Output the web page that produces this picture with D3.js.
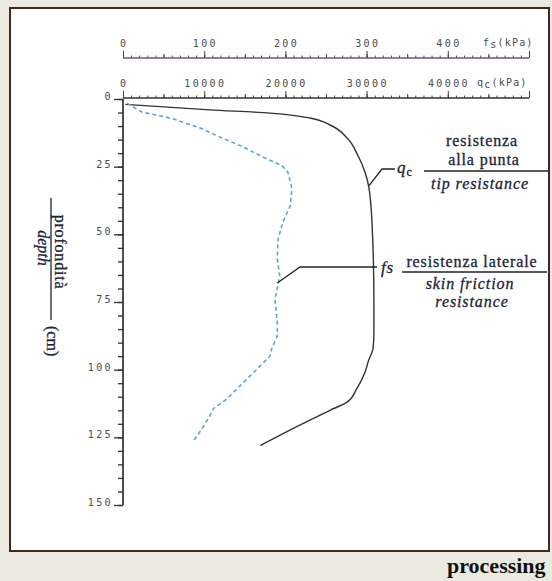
<!DOCTYPE html>
<html>
<head>
<meta charset="utf-8">
<script src="https://cdn.jsdelivr.net/npm/d3@7"></script>
<style>
  body { margin: 0; background: #ebeae1; }
  svg { display: block; }
  .tk text { font-family: "DejaVu Sans Mono", monospace; font-size: 10px; fill: #4a4a4a; letter-spacing: 2.4px; }
  .lbl { font-family: "Liberation Serif", serif; fill: #1c2438; stroke: #1c2438; stroke-width: 0.3px; }
</style>
</head>
<body>
<svg id="chart" width="552" height="581"></svg>
<script>
// tick labels
const depthTicks = [0, 25, 50, 75, 100, 125, 150];
const qcTicks = [0, 10000, 20000, 30000, 40000];
const fsTicks = [0, 100, 200, 300, 400];

// tip resistance qc (kPa) vs depth (cm)
const qcDepth = [2, 4, 5.2, 7, 9.6, 14.4, 20.7, 27, 33, 48, 75, 86, 92, 97, 101, 107, 112, 115, 121, 128];
const qcValue = [300, 10700, 18100, 23000, 25500, 27600, 28900, 29800, 30300, 30700, 30900, 30900, 30800, 30200, 29800, 28800, 27600, 25500, 21400, 16900];

// skin friction fs (kPa) vs depth (cm)
const fsDepth = [1.5, 4.8, 7, 10.7, 14, 17.7, 21.4, 24.7, 27, 33, 39.5, 45.4, 51.7, 59, 65.4, 70, 74, 82.4, 87.6, 92.4, 95, 99.8, 106, 110.8, 114.5, 117, 122, 126.7];
const fsValue = [5, 23, 58, 95, 119, 148, 172, 196, 203, 208, 206, 197, 191, 190, 193, 190, 187, 190, 190, 183, 181, 165, 144, 128, 111, 107, 97, 86];

const svg = d3.select("#chart");

// frame
svg.append("rect")
  .attr("x", 10).attr("y", 8).attr("width", 539).attr("height", 543)
  .attr("fill", "#fff").attr("stroke", "#4b2323").attr("stroke-width", 2);

const xqc = d3.scaleLinear().domain([0, 50000]).range([123, 529]);
const xfs = d3.scaleLinear().domain([0, 500]).range([123, 529]);
const y = d3.scaleLinear().domain([0, 150]).range([99, 505]);

// top axis helper: minor, medium and major ticks + labels
function topAxis(scale, yPos, step, labels, lineColor) {
  const g = svg.append("g").attr("class", "tk").attr("transform", `translate(0,${yPos})`);
  const d0 = scale.domain();
  const minor = d3.range(d0[0], d0[1] + step / 2, step);
  g.append("g").call(d3.axisTop(scale).tickValues(minor).tickSize(2.5).tickFormat(""));
  g.append("g").call(d3.axisTop(scale).tickValues(minor.filter((v, i) => i % 5 == 0)).tickSize(4).tickFormat(""));
  g.append("g").call(d3.axisTop(scale).tickValues(labels.concat([d0[1]])).tickSize(7).tickFormat(""));
  g.selectAll("path.domain").remove();
  g.selectAll("line").attr("stroke", "#444").attr("stroke-width", 1);
  g.append("line").attr("x1", scale.range()[0]).attr("x2", scale.range()[1])
    .attr("stroke", lineColor).attr("stroke-width", 1.3);
  g.selectAll("text.t").data(labels).join("text").attr("class", "t")
    .attr("x", d => scale(d) + 1.2).attr("y", -11)
    .attr("text-anchor", "middle").text(d => d);
  return g;
}

const gfs = topAxis(xfs, 58, 10, fsTicks, "#7a4f86");
const gqc = topAxis(xqc, 98, 1000, qcTicks, "#333");

// axis unit labels
gfs.append("text").attr("x", 483).attr("y", -12).style("font-size", "10px").style("letter-spacing", "1.2px")
  .text("f").append("tspan").attr("dy", 2).text("s").append("tspan").attr("dy", -2).text("(kPa)");
gqc.append("text").attr("x", 477).attr("y", -12).style("font-size", "10px").style("letter-spacing", "1.2px")
  .text("q").append("tspan").attr("dy", 2).text("c").append("tspan").attr("dy", -2).text("(kPa)");

// depth axis
const gy = svg.append("g").attr("class", "tk").attr("transform", "translate(123,0)");
gy.append("g").call(d3.axisLeft(y).tickValues(d3.range(0, 151, 5)).tickSize(5).tickFormat(""));
gy.append("g").call(d3.axisLeft(y).tickValues(depthTicks).tickSize(9).tickFormat(""));
gy.selectAll("path.domain").remove();
gy.selectAll("line").attr("stroke", "#333").attr("stroke-width", 1.3);
gy.append("line").attr("y1", y(0)).attr("y2", y(150)).attr("stroke", "#222").attr("stroke-width", 1.6);
gy.selectAll("text.t").data(depthTicks).join("text").attr("class", "t")
  .attr("x", -10).attr("y", d => y(d) + 1)
  .attr("text-anchor", "end").text(d => d);

// curves
const qcLine = d3.line().x(d => xqc(d[1])).y(d => y(d[0])).curve(d3.curveMonotoneY);
svg.append("path").datum(d3.zip(qcDepth, qcValue))
  .attr("d", qcLine).attr("fill", "none").attr("stroke", "#3a3030").attr("stroke-width", 1.4);

const fsLine = d3.line().x(d => xfs(d[1])).y(d => y(d[0]));
svg.append("path").datum(d3.zip(fsDepth, fsValue))
  .attr("d", fsLine).attr("fill", "none").attr("stroke", "#5aa6d8")
  .attr("stroke-width", 1.6).attr("stroke-dasharray", "4,3");

// annotations
const ann = svg.append("g").attr("stroke", "#222").attr("stroke-width", 1.3).attr("fill", "none");
ann.append("path").attr("d", `M${xqc(30300)},${y(32)} L382,169 L395,169`);
ann.append("line").attr("x1", 424).attr("x2", 548).attr("y1", 171).attr("y2", 171);
ann.append("path").attr("d", `M${xfs(190)},${y(68)} L300,267 L377,267`);
ann.append("line").attr("x1", 402).attr("x2", 547).attr("y1", 272).attr("y2", 272);

const lbl = svg.append("g").attr("class", "lbl").style("font-size", "16px").style("letter-spacing", "0.9px");
const q = lbl.append("text").attr("x", 397).attr("y", 173).style("font-style", "italic").style("font-size", "17px").text("q");
q.append("tspan").attr("dy", 3).style("font-size", "12px").style("font-style", "normal").text("c");
lbl.append("text").attr("x", 482).attr("y", 146).attr("text-anchor", "middle").text("resistenza");
lbl.append("text").attr("x", 484).attr("y", 165).attr("text-anchor", "middle").text("alla punta");
lbl.append("text").attr("x", 480).attr("y", 189).attr("text-anchor", "middle").style("font-style", "italic").text("tip resistance");

lbl.append("text").attr("x", 381).attr("y", 273).style("font-style", "italic").style("font-size", "17px").text("fs");
lbl.append("text").attr("x", 472).attr("y", 267).attr("text-anchor", "middle").text("resistenza laterale");
lbl.append("text").attr("x", 470).attr("y", 289).attr("text-anchor", "middle").style("font-style", "italic").text("skin friction");
lbl.append("text").attr("x", 472).attr("y", 307).attr("text-anchor", "middle").style("font-style", "italic").text("resistance");

// vertical depth label
const vl = svg.append("g").attr("transform", "translate(51,0)");
vl.append("line").attr("x1", 0).attr("x2", 0).attr("y1", 198).attr("y2", 320)
  .attr("stroke", "#1c2438").attr("stroke-width", 1.3);
vl.append("text").attr("class", "lbl").attr("transform", "translate(4,252) rotate(90)")
  .attr("text-anchor", "middle").style("font-size", "16px").style("letter-spacing", "0.8px").text("profondità");
vl.append("text").attr("class", "lbl").attr("transform", "translate(-13,248) rotate(90)")
  .attr("text-anchor", "middle").style("font-size", "16px").style("font-style", "italic").text("depth");
vl.append("text").attr("class", "lbl").attr("transform", "translate(-4,326) rotate(90)")
  .style("font-size", "16px").text("(cm)");

// caption
svg.append("text").attr("x", 447).attr("y", 573)
  .style("font-family", "Liberation Serif, serif").style("font-weight", "bold")
  .style("font-size", "22px").attr("fill", "#111").text("processing");
</script>
</body>
</html>
